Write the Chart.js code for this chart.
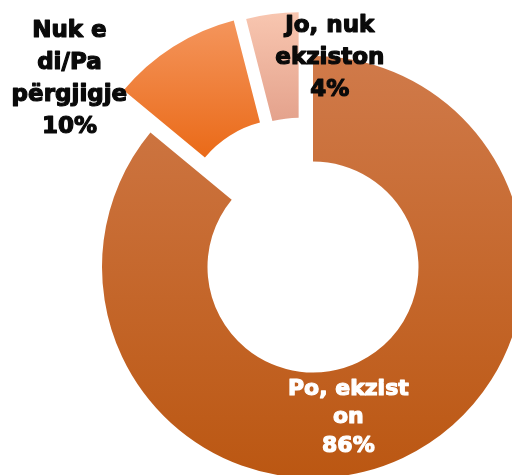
<!DOCTYPE html>
<html>
<head>
<meta charset="utf-8">
<script src="https://cdn.jsdelivr.net/npm/chart.js@4.4.1/dist/chart.umd.min.js"></script>
<style>
  html, body { margin: 0; padding: 0; background: #fff; }
  #wrap { width: 512px; height: 475px; overflow: hidden; }
</style>
</head>
<body>
<div id="wrap"><canvas id="chart"></canvas></div>
<script>
// clockwise from 12 o'clock
const categories = ['Po, ekziston', 'Nuk e di/Pa përgjigje', 'Jo, nuk ekziston'];
const labelLines = [['Po, ekzist', 'on'], ['Nuk e', 'di/Pa', 'përgjigje'], ['Jo, nuk', 'ekziston']];
const shares = [86, 10, 4];

const explode = [0, 50, 46];     // px each slice is pulled out
const explodeTurn = [0, 0, -11]; // degrees the pull direction is turned off the slice middle
const topColors = ['#D07A4A', '#F4955C', '#F8C6B0'];
const bottomColors = ['#BB5712', '#EA6A18', '#E4A28C'];

// label block: shift from the middle of its slice, colour, size, line height
const labelShift = [[-32, 13], [-132, -6], [51, -2]];
const labelColors = ['#ffffff', '#0a0a0a', '#0a0a0a'];
const labelFont = [22, 23, 23];
const labelLineHeight = [28.5, 32, 32];

const explodePlugin = {
  id: 'explode',
  afterDatasetUpdate(chart, args) {
    const ctx = chart.ctx;
    args.meta.data.forEach((arc, i) => {
      const dir = (arc.startAngle + arc.endAngle) / 2 + explodeTurn[i] * Math.PI / 180;
      arc.x += Math.cos(dir) * explode[i];
      arc.y += Math.sin(dir) * explode[i];

      // vertical gradient over the slice's own height
      let minY = Infinity, maxY = -Infinity;
      for (let k = 0; k <= 40; k++) {
        const a = arc.startAngle + (arc.endAngle - arc.startAngle) * k / 40;
        for (const r of [arc.innerRadius, arc.outerRadius]) {
          const y = arc.y + Math.sin(a) * r;
          minY = Math.min(minY, y);
          maxY = Math.max(maxY, y);
        }
      }
      const g = ctx.createLinearGradient(0, minY, 0, maxY);
      g.addColorStop(0, topColors[i]);
      g.addColorStop(1, bottomColors[i]);
      arc.options = Object.assign({}, arc.options, { backgroundColor: g });
    });
  }
};

const labelPlugin = {
  id: 'sliceLabels',
  afterDatasetsDraw(chart) {
    const ctx = chart.ctx;
    chart.getDatasetMeta(0).data.forEach((arc, i) => {
      const mid = (arc.startAngle + arc.endAngle) / 2;
      const r = (arc.innerRadius + arc.outerRadius) / 2;
      const cx = arc.x + Math.cos(mid) * r + labelShift[i][0];
      const cy = arc.y + Math.sin(mid) * r + labelShift[i][1];
      const lines = [...labelLines[i], shares[i] + '%'];

      ctx.save();
      ctx.font = `bold ${labelFont[i]}px "DejaVu Sans"`;
      ctx.fillStyle = labelColors[i];
      ctx.strokeStyle = labelColors[i];
      ctx.lineWidth = 1.2;
      ctx.lineJoin = 'round';
      ctx.textAlign = 'center';
      ctx.textBaseline = 'alphabetic';
      lines.forEach((line, j) => {
        const y = cy + (j - (lines.length - 1) / 2) * labelLineHeight[i];
        ctx.fillText(line, cx, y);
        ctx.strokeText(line, cx, y); // the original face is heavier than DejaVu Bold
      });
      ctx.restore();
    });
  }
};

new Chart(document.getElementById('chart'), {
  type: 'doughnut',
  data: {
    labels: categories,
    datasets: [{
      data: shares,
      backgroundColor: topColors,
      borderWidth: 0
    }]
  },
  options: {
    responsive: true,
    maintainAspectRatio: false,
    animation: false,
    events: [],
    radius: 211,
    cutout: '50%',
    layout: { padding: { left: 114, top: 59, right: 0, bottom: 0 } },
    plugins: {
      legend: { display: false },
      tooltip: { enabled: false }
    }
  },
  plugins: [explodePlugin, labelPlugin]
});
</script>
</body>
</html>
